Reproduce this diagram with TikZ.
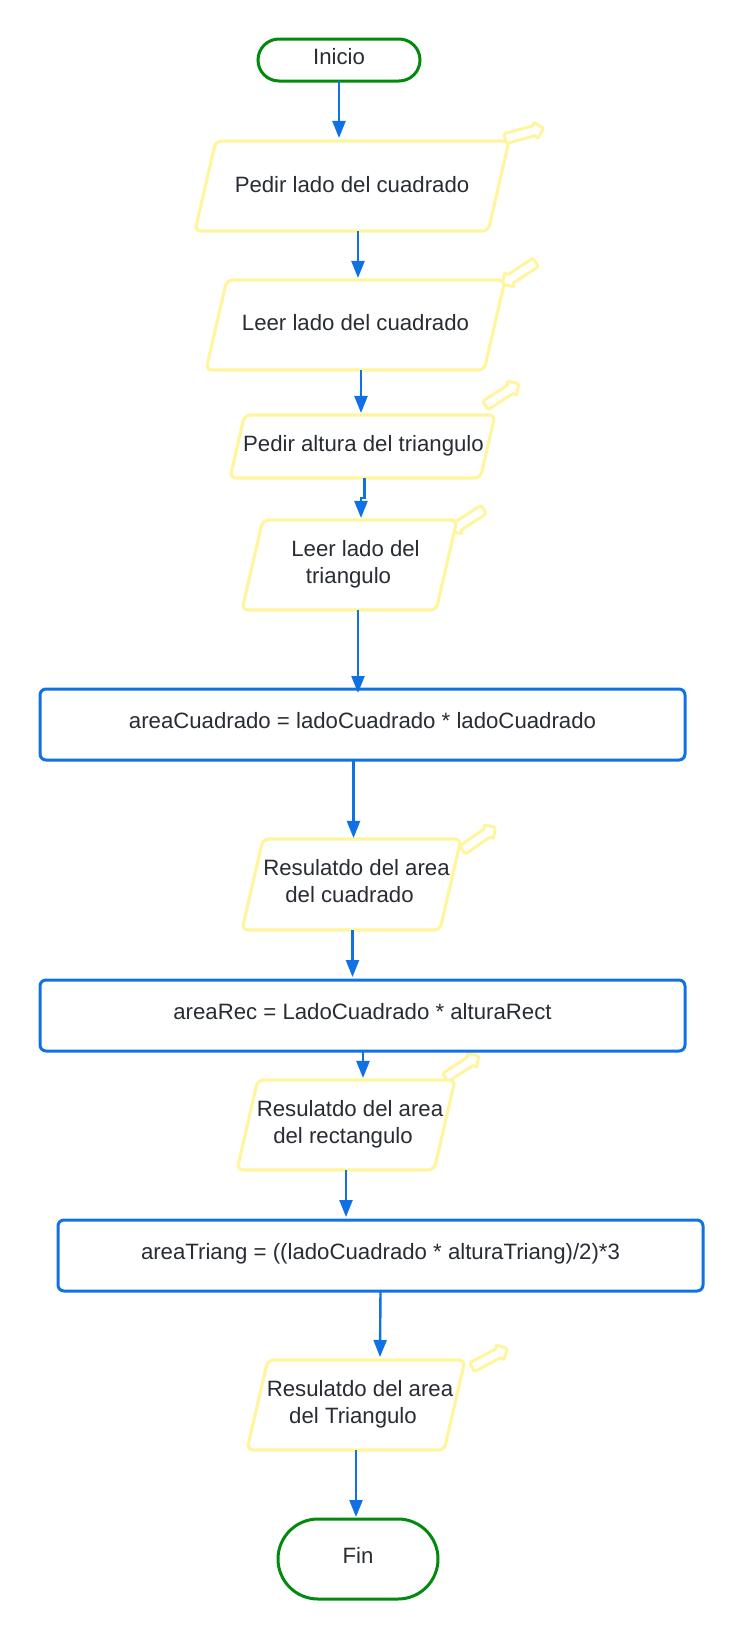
\documentclass[tikz,border=0pt]{standalone}
\usepackage{fontspec}
\setmainfont{Liberation Sans}
\usepackage{xcolor}
\usetikzlibrary{shapes.geometric, shapes.arrows, arrows.meta, positioning}
\definecolor{azulFlujo}{HTML}{1071E5}
\definecolor{verdeFlujo}{HTML}{008A0E}
\definecolor{amarilloFlujo}{HTML}{FFF59E}
\definecolor{textoFlujo}{HTML}{282C33}
% altura de la caja, texto algo subido, ancho propio nulo
\newcommand{\lineas}[3][0pt]{\vbox to #2{\vss\hbox to 0pt{\hss\kern#1\kern#1\begin{tabular}{@{}c@{}}#3\end{tabular}\hss}\vss\kern1pt}}
\begin{document}
\begin{tikzpicture}[
    x=1pt, y=1pt,
    every node/.style={outer sep=0pt, inner sep=0pt, text=textoFlujo, font=\fontsize{22.2}{27}\selectfont},
    extremo/.style={rectangle, draw=verdeFlujo, line width=3pt, rounded corners=#1, fill=white},
    entrada/.style={trapezium, trapezium left angle=77, trapezium right angle=103, trapezium stretches body, draw=amarilloFlujo, line width=3.2pt, rounded corners=6pt, fill=white},
    proceso/.style={rectangle, draw=azulFlujo, line width=3pt, rounded corners=6pt, fill=white, minimum width=645pt},
    nota/.style={single arrow, draw=amarilloFlujo, line width=3pt, line join=round, rounded corners=1.5pt, inner sep=3.5pt, minimum height=40pt, minimum width=15pt, single arrow head extend=4pt, single arrow head indent=0pt},
    flecha/.style={-{Triangle[length=17pt, width=13pt]}, line width=2.4pt, azulFlujo}
]
    \path[use as bounding box] (0,0) rectangle (742,-1639);

    % notas detras de las cajas
    \node[nota, rotate=15] (n1) at (522,-134) {};
    \node[nota, rotate=213] (n2) at (521,-272) {};
    \node[nota, rotate=33] (n3) at (500,-396) {};
    \node[nota, rotate=213] (n4) at (469,-519) {};
    \node[nota, rotate=35] (n5) at (477,-840) {};
    \node[nota, rotate=33] (n6) at (460,-1068) {};
    \node[nota, rotate=28] (n7) at (487.5,-1359) {};

    \node[extremo=21pt, minimum width=162pt] (inicio) at (339,-60) {\lineas{42pt}{Inicio}};
    \node[entrada, minimum width=314pt] (r1) at (352,-186) {\lineas{90pt}{\raisebox{-2pt}{Pedir lado del cuadrado}}};
    \node[entrada, minimum width=299pt] (r2) at (355.5,-325) {\lineas{90pt}{\raisebox{-1pt}{Leer lado del cuadrado}}};
    \node[entrada, minimum width=265pt] (r3) at (362.5,-446.5) {\lineas[1pt]{63pt}{Pedir altura del triangulo}};
    \node[entrada, minimum width=215pt] (r4) at (349.5,-565) {\lineas[6pt]{90pt}{Leer lado del\\triangulo\hspace*{14pt}}};
    \node[proceso] (p1) at (362.5,-724.5) {\lineas{71pt}{\raisebox{1pt}{areaCuadrado = ladoCuadrado * ladoCuadrado}}};
    \node[entrada, minimum width=219pt] (r5) at (351.5,-884.5) {\lineas[5pt]{91pt}{Resulatdo del area\\del cuadrado\hspace*{14pt}}};
    \node[proceso] (p2) at (362.5,-1015.5) {\lineas{71pt}{\raisebox{1pt}{areaRec = LadoCuadrado * alturaRect}}};
    \node[entrada, minimum width=218pt] (r6) at (346,-1125) {\lineas[4pt]{90pt}{Resulatdo del area\\del rectangulo\hspace*{14pt}}};
    \node[proceso] (p3) at (380.5,-1255.5) {\lineas{71pt}{\raisebox{1pt}{areaTriang = ((ladoCuadrado * alturaTriang)/2)*3}}};
    \node[entrada, minimum width=218pt] (r7) at (356,-1405) {\lineas[4pt]{90pt}{Resulatdo del area\\del Triangulo\hspace*{14pt}}};
    \node[extremo=40pt, minimum width=160pt] (fin) at (358,-1559) {\lineas{80pt}{Fin}};

    \draw[flecha] (inicio.south) -- ([yshift=3pt]r1.north -| inicio.south);
    \draw[flecha] ([xshift=6pt]r1.south) -- ([xshift=6pt, yshift=2pt]r1.south |- r2.north);
    \draw[flecha] ([xshift=-1.5pt]r2.south -| r3.north) -- ([xshift=-1.5pt, yshift=2pt]r3.north);
    \draw[flecha] ([xshift=2pt]r3.south) -- ++(0,-20pt) -| ([xshift=11.5pt, yshift=2pt]r4.north);
    \draw[flecha] ([xshift=8.5pt]r4.south) -- ([xshift=-4.5pt, yshift=-4pt]p1.north);
    \draw[flecha] ([xshift=-9pt]p1.south) -- ([xshift=2pt, yshift=1pt]r5.north);
    \draw[flecha] ([xshift=1pt]r5.south) -- ([xshift=-10pt, yshift=3pt]p2.north);
    \draw[flecha] ([xshift=0.5pt]p2.south) -- ([xshift=17pt, yshift=2pt]r6.north);
    \draw[flecha] (r6.south) -- ([xshift=-34.5pt, yshift=3pt]p3.north);
    \draw[flecha] (p3.south) -- ([xshift=24pt, yshift=3pt]r7.north);
    \draw[flecha] (r7.south) -- ([xshift=-2pt, yshift=2pt]fin.north);
\end{tikzpicture}
\end{document}
